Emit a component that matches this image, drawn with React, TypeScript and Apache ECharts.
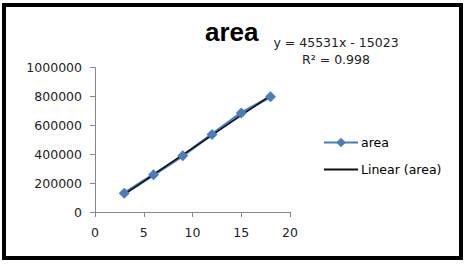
import React, { useEffect, useRef } from "react";
import * as echarts from "echarts";

const xValues = [3, 6, 9, 12, 15, 18];
const areaValues = [129000, 257000, 390000, 537000, 685000, 798000];
const trendSlope = 45531;
const trendIntercept = -15023;
const xTicks = [0, 5, 10, 15, 20];
const yTicks = [0, 200000, 400000, 600000, 800000, 1000000];

export default function App() {
  const ref = useRef<HTMLDivElement>(null);
  useEffect(() => {
    if (!ref.current) return;
    const chart = echarts.init(ref.current, undefined, { renderer: "svg" });
    const areaData = xValues.map((x, i) => [x, areaValues[i]]);
    const trendData = [xValues[0], xValues[xValues.length - 1]].map((x) => [
      x,
      trendSlope * x + trendIntercept,
    ]);
    const axisFont = { fontFamily: "DejaVu Sans", fontSize: 12.5, color: "#222" };
    chart.setOption({
      animation: false,
      backgroundColor: "#fff",
      title: {
        text: "area",
        left: 200,
        top: 14,
        textStyle: { fontFamily: "Liberation Sans", fontWeight: "bold", fontSize: 26, color: "#000" },
      },
      legend: {
        orient: "vertical",
        left: 318,
        top: 131,
        itemWidth: 34,
        itemHeight: 12,
        itemGap: 14,
        textStyle: { fontFamily: "DejaVu Sans", fontSize: 12.5, color: "#000", padding: [0, 0, 0, -2] },
        data: [
          { name: "area" },
          { name: "Linear (area)", itemStyle: { opacity: 0 } },
        ],
      },
      grid: { left: 95, right: 176, top: 67.5, bottom: 53 },
      xAxis: {
        type: "value",
        min: xTicks[0],
        max: xTicks[xTicks.length - 1],
        interval: 5,
        splitLine: { show: false },
        axisLine: { lineStyle: { color: "#888" } },
        axisTick: { show: true, length: 5, lineStyle: { color: "#888" } },
        axisLabel: { ...axisFont, margin: 14 },
      },
      yAxis: {
        type: "value",
        min: yTicks[0],
        max: yTicks[yTicks.length - 1],
        interval: 200000,
        splitLine: { show: false },
        axisLine: { show: true, lineStyle: { color: "#888" } },
        axisTick: { show: true, length: 5, lineStyle: { color: "#888" } },
        axisLabel: { ...axisFont, margin: 13, formatter: (v: number) => String(v) },
      },
      series: [
        {
          name: "area",
          type: "line",
          data: areaData,
          symbol: "diamond",
          symbolSize: 11,
          itemStyle: { color: "#4a7ebb" },
          lineStyle: { color: "#4a7ebb", width: 3 },
        },
        {
          name: "Linear (area)",
          type: "line",
          data: trendData,
          showSymbol: false,
          symbol: "none",
          itemStyle: { color: "#000" },
          lineStyle: { color: "#111", width: 1.5 },
        },
      ],
      graphic: [
        {
          type: "rect",
          shape: { x: 4, y: 5, width: 457, height: 253 },
          style: { fill: "none", stroke: "#000", lineWidth: 4 },
        },
        {
          type: "text",
          x: 336,
          y: 42,
          style: {
            text: "y = 45531x - 15023",
            fontFamily: "DejaVu Sans",
            fontSize: 12.5,
            fill: "#222",
            align: "center",
            verticalAlign: "middle",
          },
        },
        {
          type: "text",
          x: 336,
          y: 59,
          style: {
            text: "R² = 0.998",
            fontFamily: "DejaVu Sans",
            fontSize: 12.5,
            fill: "#222",
            align: "center",
            verticalAlign: "middle",
          },
        },
      ],
    });
    return () => chart.dispose();
  }, []);
  return (
    <div
      ref={ref}
      style={{ position: "fixed", left: 0, top: 0, width: 466, height: 265 }}
    />
  );
}
